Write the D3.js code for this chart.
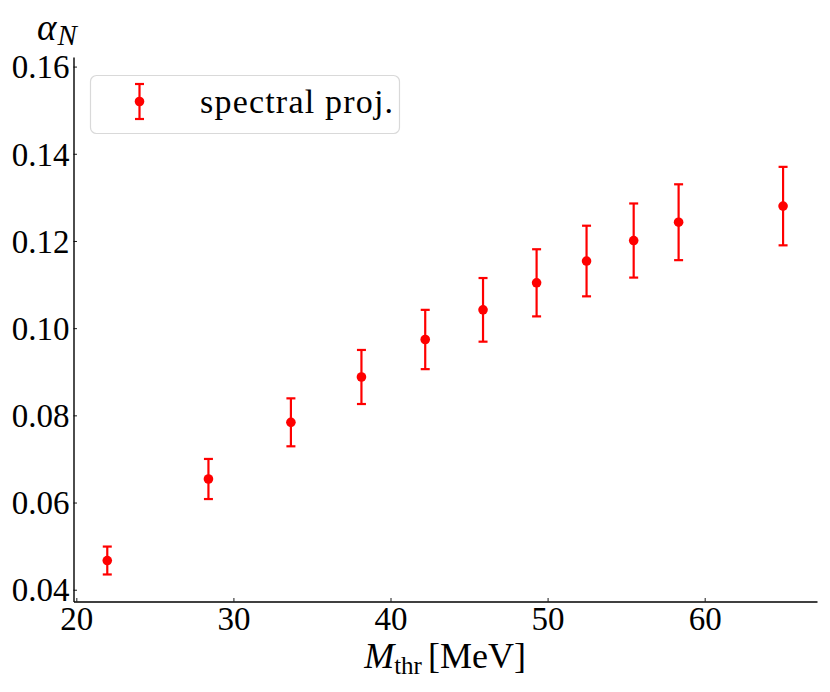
<!DOCTYPE html>
<html>
<head>
<meta charset="utf-8">
<script src="https://cdn.jsdelivr.net/npm/d3@7"></script>
<style>
  html, body { margin: 0; padding: 0; background: #fff; }
  svg { display: block; }
</style>
</head>
<body>
<script>
// ---- data ----
const mthr = [21.97, 28.41, 33.66, 38.15, 42.21, 45.89, 49.30, 52.48, 55.48, 58.34, 64.99];
const alphaN = [0.0467, 0.0654, 0.0784, 0.0888, 0.0974, 0.1042, 0.1104, 0.1154, 0.1201, 0.1243, 0.1280];
const alphaErr = [0.0032, 0.0046, 0.0055, 0.0062, 0.0068, 0.0073, 0.0077, 0.0081, 0.0085, 0.0087, 0.0090];
const xTicks = [20, 30, 40, 50, 60];
const yTicks = [0.04, 0.06, 0.08, 0.10, 0.12, 0.14, 0.16];
const legendLabel = "spectral proj.";

const FONT = "Liberation Serif";
const W = 830, H = 692;
const svg = d3.select("body").append("svg").attr("width", W).attr("height", H)
  .attr("font-family", FONT);

const x = d3.scaleLinear().domain([19.82, 67.15]).range([73.5, 817]);
const y = d3.scaleLinear().domain([0.0373, 0.1622]).range([601.5, 57]);

const red = "#ff0000";

// axes
const xAxis = d3.axisBottom(x).tickValues(xTicks).tickFormat(d3.format("d"))
  .tickSizeInner(-3.5).tickSizeOuter(0).tickPadding(5);
const yAxis = d3.axisLeft(y).tickValues(yTicks).tickFormat(d3.format(".2f"))
  .tickSizeInner(-3.5).tickSizeOuter(0).tickPadding(4);

const gx = svg.append("g").attr("transform", `translate(0,${y.range()[0]})`).call(xAxis);
const gy = svg.append("g").attr("transform", `translate(${x.range()[0]},0)`).call(yAxis);
[gx, gy].forEach(g => {
  g.attr("font-family", FONT).attr("font-size", 33);
  g.select(".domain").attr("stroke", "#000").attr("stroke-width", 1.4);
  g.selectAll(".tick line").attr("stroke", "#000").attr("stroke-width", 0.9);
  g.selectAll(".tick text").attr("fill", "#000").attr("font-family", FONT).attr("font-size", 33);
});
gx.selectAll(".tick text").attr("dy", "0.72em");
gy.selectAll(".tick text").attr("dy", "0.34em");

// error bars
const pts = mthr.map((m, i) => ({ m, a: alphaN[i], e: alphaErr[i] }));
const capW = 4.5;
const eb = svg.append("g").attr("stroke", red).attr("stroke-width", 2.2).attr("fill", "none");
eb.selectAll("line.v").data(pts).join("line").attr("class", "v")
  .attr("x1", d => x(d.m)).attr("x2", d => x(d.m))
  .attr("y1", d => y(d.a - d.e)).attr("y2", d => y(d.a + d.e));
eb.selectAll("line.ct").data(pts).join("line").attr("class", "ct")
  .attr("x1", d => x(d.m) - capW).attr("x2", d => x(d.m) + capW)
  .attr("y1", d => y(d.a + d.e)).attr("y2", d => y(d.a + d.e));
eb.selectAll("line.cb").data(pts).join("line").attr("class", "cb")
  .attr("x1", d => x(d.m) - capW).attr("x2", d => x(d.m) + capW)
  .attr("y1", d => y(d.a - d.e)).attr("y2", d => y(d.a - d.e));
svg.append("g").selectAll("circle").data(pts).join("circle")
  .attr("cx", d => x(d.m)).attr("cy", d => y(d.a)).attr("r", 4.8).attr("fill", red);

// y label alpha_N
const yl = svg.append("text").attr("x", 37).attr("y", 40).attr("font-family", FONT).attr("font-size", 37);
yl.append("tspan").attr("font-style", "italic").text("α");
yl.append("tspan").attr("font-style", "italic").attr("font-size", 29).attr("dy", 5).attr("dx", 1).text("N");

// x label M_thr [MeV]
const xl = svg.append("text").attr("x", 445).attr("y", 668).attr("text-anchor", "middle")
  .attr("font-family", FONT).attr("font-size", 36);
xl.append("tspan").attr("font-style", "italic").text("M");
xl.append("tspan").attr("font-size", 25).attr("dy", 6).text("thr");
xl.append("tspan").attr("dy", -6).attr("dx", 6).text("[MeV]");

// legend
const lg = svg.append("g");
lg.append("rect").attr("x", 90.5).attr("y", 75.5).attr("width", 309).attr("height", 58)
  .attr("rx", 6).attr("fill", "#fff").attr("stroke", "#d9d9d9").attr("stroke-width", 1.2);
const lx = 139.5, ly = 101.5, lh = 17.5;
lg.append("line").attr("x1", lx).attr("x2", lx).attr("y1", ly - lh).attr("y2", ly + lh)
  .attr("stroke", red).attr("stroke-width", 2.2);
lg.append("line").attr("x1", lx - capW).attr("x2", lx + capW).attr("y1", ly - lh).attr("y2", ly - lh)
  .attr("stroke", red).attr("stroke-width", 2.2);
lg.append("line").attr("x1", lx - capW).attr("x2", lx + capW).attr("y1", ly + lh).attr("y2", ly + lh)
  .attr("stroke", red).attr("stroke-width", 2.2);
lg.append("circle").attr("cx", lx).attr("cy", ly).attr("r", 4.8).attr("fill", red);
lg.append("text").attr("x", 200).attr("y", 113)
  .attr("font-family", FONT).attr("font-size", 34).attr("letter-spacing", 1.2).text(legendLabel);
</script>
</body>
</html>
